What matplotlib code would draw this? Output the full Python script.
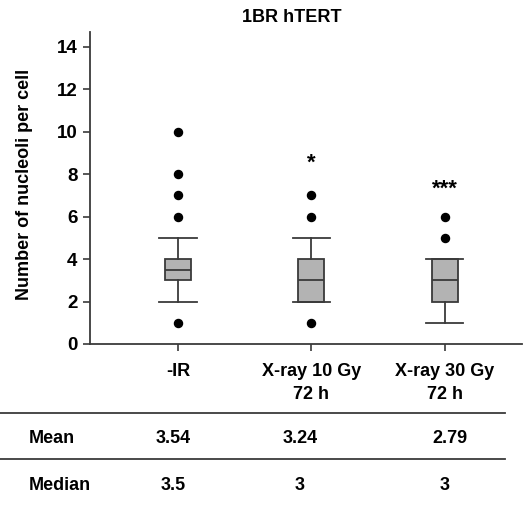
import matplotlib
matplotlib.use("Agg")
import matplotlib.pyplot as plt
from matplotlib.lines import Line2D

plt.rcParams['font.family'] = ['Liberation Sans', 'DejaVu Sans']
plt.rcParams['font.weight'] = 'bold'

categories = ["-IR", "X-ray 10 Gy\n72 h", "X-ray 30 Gy\n72 h"]
whisker_low = [2, 2, 1]
q1 = [3, 2, 2]
medians = [3.5, 3, 3]
q3 = [4, 4, 4]
whisker_high = [5, 5, 4]
outliers = [[1, 6, 7, 8, 10], [1, 6, 7], [5, 6]]
significance = ["", "*", "***"]
significance_y = [None, 8.5, 7.3]
mean_values = ["3.54", "3.24", "2.79"]
median_values = ["3.5", "3", "3"]
yticks = [0, 2, 4, 6, 8, 10, 12, 14]

FS = 13
W, H = 528, 505
fig = plt.figure(figsize=(W / 100, H / 100), dpi=100)
ax = fig.add_axes([90 / W, 1 - 344 / H, (522 - 90) / W, (344 - 31.7) / H])

stats = []
for i in range(len(categories)):
    stats.append(dict(med=medians[i], q1=q1[i], q3=q3[i],
                      whislo=whisker_low[i], whishi=whisker_high[i],
                      fliers=outliers[i], label=categories[i]))

lc = "#3a3a3a"
positions = [1, 2, 3]
ax.bxp(stats, positions=positions, widths=0.195, patch_artist=True,
       showfliers=True, capwidths=0.28,
       boxprops=dict(facecolor="#b3b3b3", edgecolor=lc, linewidth=1.3),
       medianprops=dict(color=lc, linewidth=1.3),
       whiskerprops=dict(color=lc, linewidth=1.3),
       capprops=dict(color=lc, linewidth=1.3),
       flierprops=dict(marker='o', markerfacecolor='black', markeredgecolor='black',
                       markersize=5.8, linestyle='none'))

for i, s in enumerate(significance):
    if s:
        ax.text(positions[i], significance_y[i], s, ha='center', va='center',
                fontsize=16, fontweight='bold')

ax.set_xlim(0.34, 3.58)
ax.set_ylim(0, 14.7)
ax.set_yticks(yticks)
ax.set_yticklabels([str(t) for t in yticks])
ax.set_xticks(positions)
ax.set_xticklabels(categories, linespacing=1.4)
ax.spines['top'].set_visible(False)
ax.spines['right'].set_visible(False)
for sp in ['left', 'bottom']:
    ax.spines[sp].set_color(lc)
    ax.spines[sp].set_linewidth(1.3)
ax.tick_params(axis='both', direction='out', length=5, width=1.2, color=lc,
               labelsize=FS)
ax.tick_params(axis='y', labelsize=13.5, pad=4)
ax.tick_params(axis='x', pad=9)
for lab in ax.get_xticklabels() + ax.get_yticklabels():
    lab.set_fontweight('bold')

fig.text(25 / W, 1 - 184 / H, "Number of nucleoli per cell", rotation=90,
         ha='center', va='center', fontsize=FS, fontweight='bold')
fig.text(292 / W, 1 - 17 / H, "1BR hTERT", ha='center', va='center',
         fontsize=FS, fontweight='bold')

# table below
for yline in [413.3, 459.3]:
    fig.add_artist(Line2D([0, 505 / W], [1 - yline / H, 1 - yline / H],
                          color=lc, linewidth=1.3, transform=fig.transFigure))
fig.text(29 / W, 1 - 438.3 / H, "Mean", ha='left', va='center', fontsize=FS, fontweight='bold')
fig.text(29 / W, 1 - 485 / H, "Median", ha='left', va='center', fontsize=FS, fontweight='bold')
mean_x = [173, 300, 450]
med_x = [173, 300, 445]
for i in range(3):
    fig.text(mean_x[i] / W, 1 - 438.3 / H, mean_values[i], ha='center', va='center',
             fontsize=FS, fontweight='bold')
    fig.text(med_x[i] / W, 1 - 485 / H, median_values[i], ha='center', va='center',
             fontsize=FS, fontweight='bold')

fig.savefig("out.png", dpi=100)
